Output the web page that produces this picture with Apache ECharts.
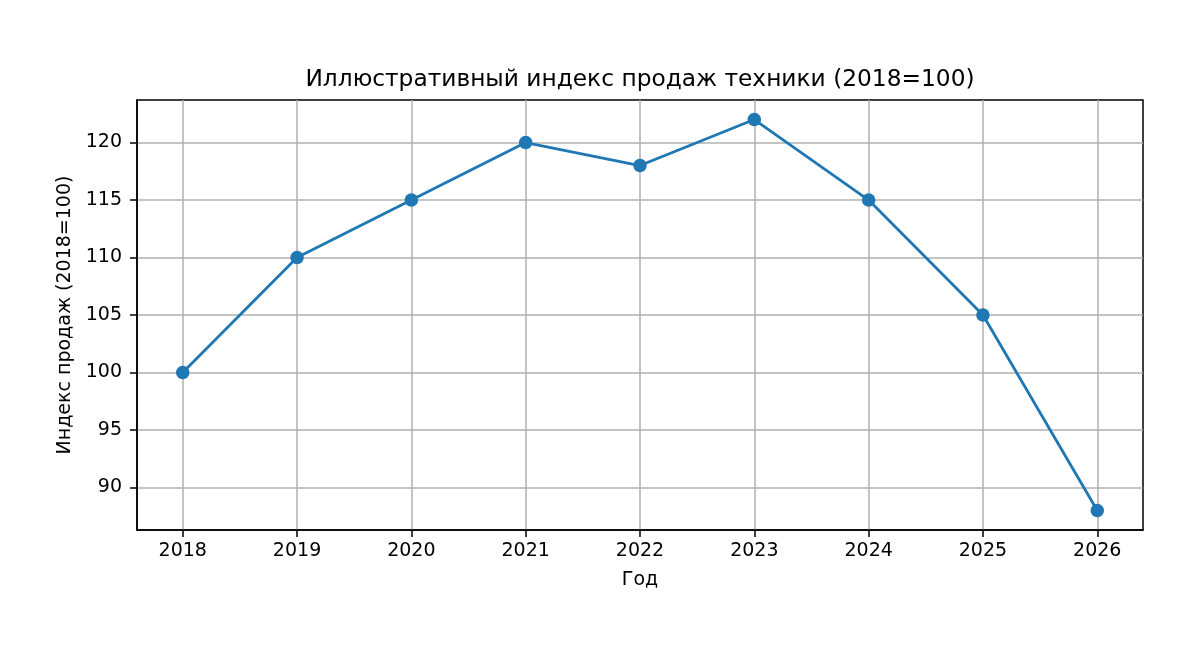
<!DOCTYPE html>
<html><head><meta charset="utf-8">
<script src="https://cdn.jsdelivr.net/npm/echarts@6/dist/echarts.min.js"></script>
<style>html,body{margin:0;padding:0;background:#fff}#c{width:1200px;height:654px}</style>
</head><body><div id="c"></div>
<script>
const years = [2018, 2019, 2020, 2021, 2022, 2023, 2024, 2025, 2026];
const values = [100, 110, 115, 120, 118, 122, 115, 105, 88];
const yTicks = [90, 95, 100, 105, 110, 115, 120];
const titleText = 'Иллюстративный индекс продаж техники (2018=100)';
const xName = 'Год';
const yName = 'Индекс продаж (2018=100)';

const font = 'DejaVu Sans';
const chart = echarts.init(document.getElementById('c'), null, {renderer: 'canvas'});
chart.setOption({
  animation: false,
  backgroundColor: '#fff',
  graphic: [{type: 'text', x: 640, y: 80, style: {text: titleText, x: 0, y: 0, align: 'center', verticalAlign: 'middle',
    font: '23.3px "DejaVu Sans"', fill: '#000'}}],
  grid: {left: 137, top: 100, width: 1006, height: 430, show: true, borderColor: '#000', borderWidth: 1.5, containLabel: false},
  xAxis: {
    type: 'value', min: 2017.6, max: 2026.4,
    name: xName, nameLocation: 'middle', nameGap: 41,
    nameTextStyle: {fontFamily: font, fontSize: 19, color: '#000'},
    axisLine: {show: true, lineStyle: {color: '#000', width: 1.5}},
    axisTick: {show: true, length: 7, inside: false, lineStyle: {color: '#000', width: 1.5}, customValues: years},
    axisLabel: {customValues: years, fontFamily: font, fontSize: 19, color: '#000', margin: 12, formatter: v => String(v)},
    splitLine: {show: true, lineStyle: {color: '#b0b0b0', width: 1.5}}
  },
  yAxis: {
    type: 'value', min: 86.3, max: 123.7,
    name: yName, nameLocation: 'middle', nameGap: 62,
    nameTextStyle: {fontFamily: font, fontSize: 19, color: '#000'},
    axisLine: {show: true, lineStyle: {color: '#000', width: 1.5}},
    axisTick: {show: true, length: 7, lineStyle: {color: '#000', width: 1.5}, customValues: yTicks},
    axisLabel: {customValues: yTicks, fontFamily: font, fontSize: 19, color: '#000', margin: 15},
    splitLine: {show: true, lineStyle: {color: '#b0b0b0', width: 1.5}}
  },
  series: [{
    type: 'line', data: years.map((y, i) => [y, values[i]]),
    symbol: 'circle', symbolSize: 13.5,
    lineStyle: {color: '#1f77b4', width: 2.8},
    itemStyle: {color: '#1f77b4'}
  }]
});
</script></body></html>
